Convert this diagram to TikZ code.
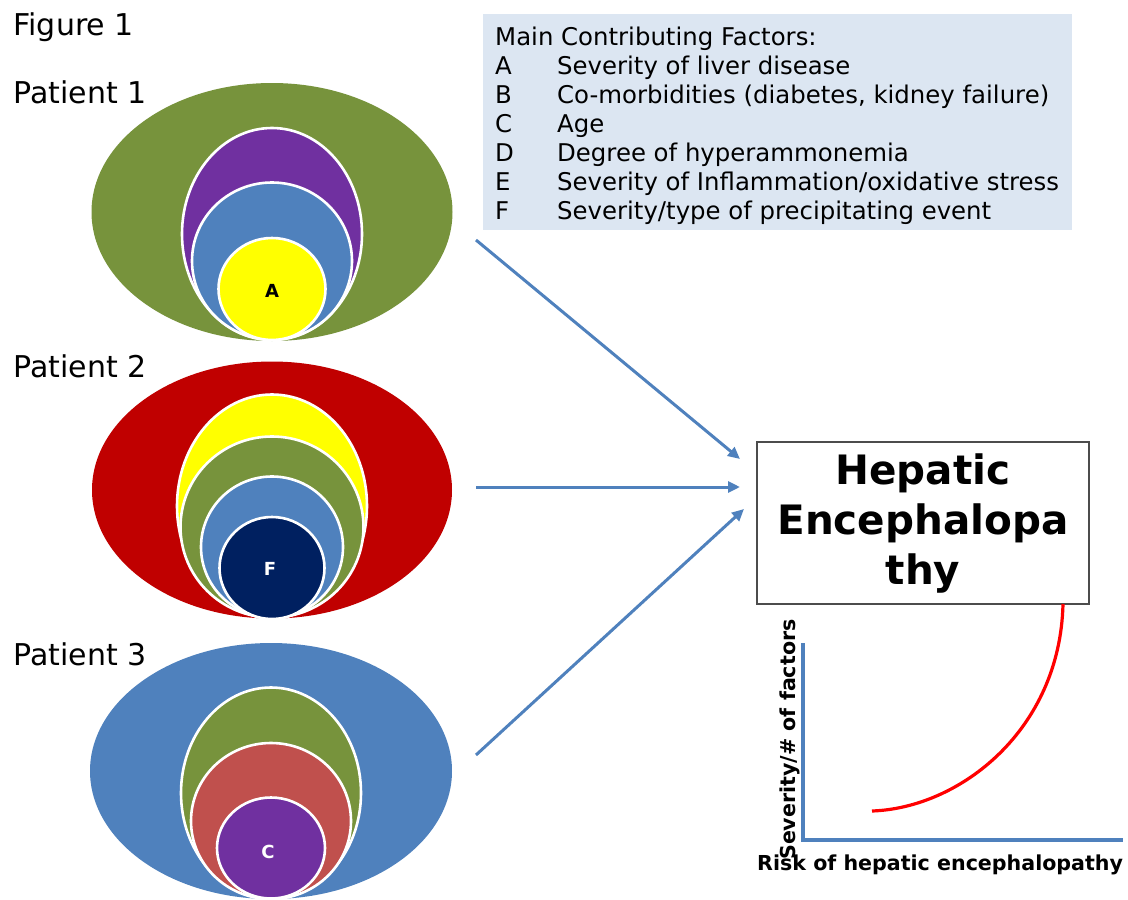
\documentclass[tikz,border=0pt]{standalone}
\usepackage{fontspec}
\setmainfont{DejaVu Sans}
\usetikzlibrary{shapes.geometric, arrows.meta, positioning, calc}
\definecolor{hegreen}{HTML}{77933C}
\definecolor{hepurple}{HTML}{7030A0}
\definecolor{heblue}{HTML}{4F81BD}
\definecolor{heyellow}{HTML}{FFFF00}
\definecolor{hered}{HTML}{C00000}
\definecolor{henavy}{HTML}{002060}
\definecolor{herose}{HTML}{C0504D}
\definecolor{helegend}{HTML}{DCE6F2}

\begin{document}
\begin{tikzpicture}[
    x=1pt, y=-1pt,
    outer/.style={ellipse, inner sep=0pt, draw=none},
    ring/.style={ellipse, inner sep=0pt, draw=white, line width=2.6pt},
    tag/.style={font=\bfseries\fontsize{18}{18}\selectfont},
    patient/.style={anchor=base west, font=\fontsize{30}{30}\selectfont},
    legendtext/.style={anchor=base west, inner sep=0pt,
                       font=\fontsize{24.4}{29}\selectfont},
    hebox/.style={rectangle, draw=black!70, line width=1.2pt, fill=white,
                  minimum width=332, minimum height=162, inner sep=0pt,
                  align=center, font=\bfseries\fontsize{40.5}{50}\selectfont},
    axislabel/.style={inner sep=0pt, font=\bfseries\fontsize{20.6}{20}\selectfont},
    flow/.style={-{Triangle[length=12pt,width=11pt]}, line width=3pt, heblue},
    axis/.style={line width=3.2pt, heblue},
    risk/.style={line width=3.2pt, red},
]
\useasboundingbox (0,0) rectangle (1128,900);

% Titles
\node[patient] (fig) at (10,35) {Figure 1};
\node[patient] (lab1) at (10,103) {Patient 1};
\node[patient] (lab2) at (10,377) {Patient 2};
\node[patient] (lab3) at (10,665) {Patient 3};

% Patient 1
\node[outer, fill=hegreen, minimum width=361, minimum height=258] (p1) at (272,212) {};
\foreach \cy/\w/\h/\c [count=\k] in {234/180/212/hepurple, 261/160/157/heblue,
                                     289/107/102/heyellow}
  \node[ring, fill=\c, minimum width=\w, minimum height=\h] (p1r\k) at (272,\cy) {};
\node[tag] (tagA) at (272,291) {A};

% Patient 2
\node[outer, fill=hered, minimum width=360, minimum height=257] (p2) at (272,490) {};
\foreach \cy/\w/\h/\c [count=\k] in {506/190/223/heyellow, 527/183/181/hegreen,
                                     547/142/141/heblue, 568/105/102/henavy}
  \node[ring, fill=\c, minimum width=\w, minimum height=\h] (p2r\k) at (272,\cy) {};
\node[tag, white] (tagF) at (270,569) {F};

% Patient 3
\node[outer, fill=heblue, minimum width=362, minimum height=256] (p3) at (271,771) {};
\foreach \cy/\w/\h/\c [count=\k] in {793/180/211/hegreen, 821/160/156/herose,
                                     848/108/101/hepurple}
  \node[ring, fill=\c, minimum width=\w, minimum height=\h] (p3r\k) at (271,\cy) {};
\node[tag, white] (tagC) at (268,852) {C};

% Legend
\node[rectangle, fill=helegend, minimum width=589, minimum height=216,
      anchor=north west, inner sep=0pt] (legend) at (483,14) {};
\node[legendtext] (lhead) at (495,45) {Main Contributing Factors:};
\foreach \l/\d [count=\i] in {A/{Severity of liver disease},
    B/{Co-morbidities (diabetes, kidney failure)}, C/{Age},
    D/{Degree of hyperammonemia}, E/{Severity of Inflammation/oxidative stress},
    F/{Severity/type of precipitating event}} {
  \node[legendtext] (key\l) at (495,{45+29*\i}) {\l};
  \node[legendtext] (desc\l) at (557,{45+29*\i}) {\d};
}

% Outcome box
\node[hebox] (he) at (923,523) {Hepatic\\Encephalopa\\thy};

% Arrows
\coordinate (from1) at (476,240);
\coordinate (to1) at (740,459);
\coordinate (from2) at (476,487);
\coordinate (to2) at (740,487);
\coordinate (from3) at (476,755);
\coordinate (to3) at (744,509);
\draw[flow] (from1) -- (to1);
\draw[flow] (from2) -- (to2);
\draw[flow] (from3) -- (to3);

% Risk plot
\coordinate (origin) at (803,840);
\coordinate (ytop) at (803,643);
\coordinate (xend) at (1123,840);
\draw[axis] (ytop) -- (origin) -- (xend);
\coordinate (c0) at (872,811);
\coordinate (c1) at (1063,604);
\draw[risk] (c0) .. controls (960,808) and (1060,730) .. (c1);
\node[axislabel, anchor=base west] (xlab) at (757,870) {Risk of hepatic encephalopathy};
\node[axislabel, rotate=90, anchor=base west] (ylab) at (795,860) {Severity/\# of factors};

\end{tikzpicture}
\end{document}
